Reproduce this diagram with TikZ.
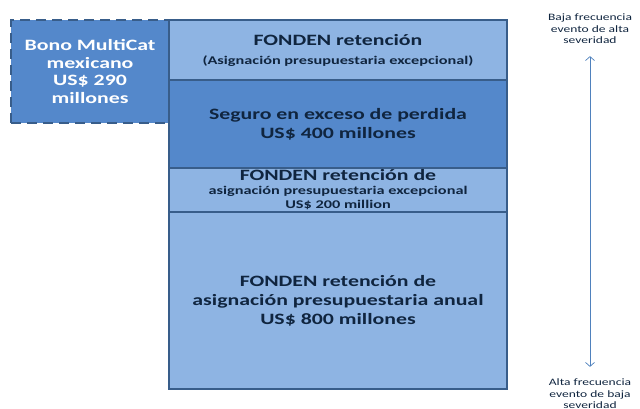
\documentclass[tikz,border=0pt]{standalone}
\usepackage{fontspec}
\setmainfont{Carlito}[FakeStretch=1.38]
\usetikzlibrary{arrows.meta}

\definecolor{riskLayersLightFill}{RGB}{142,180,227}
\definecolor{riskLayersDarkFill}{RGB}{84,136,203}
\definecolor{riskLayersBorder}{RGB}{56,93,138}
\definecolor{riskLayersText}{RGB}{16,37,63}
\definecolor{riskLayersArrowColor}{RGB}{79,129,189}
\newcommand{\riskLayersSmall}{\fontsize{11.8}{14}\selectfont}
\tikzset{riskLayersLight/.style={
    font=\bfseries\fontsize{15.8}{19}\selectfont,
    text=riskLayersText,
    fill=riskLayersLightFill,
    draw=riskLayersBorder,
    line width=2pt,
    align=center,
    inner sep=0pt,
    outer sep=0pt,
    minimum width=338pt,
  }
}
\tikzset{riskLayersDark/.style={
    riskLayersLight,
    fill=riskLayersDarkFill,
  }
}
\tikzset{riskLayersBond/.style={
    riskLayersDark,
    text=white,
    dash pattern=on 10pt off 6pt,
    line width=2.4pt,
    minimum width=158pt,
    minimum height=103pt,
  }
}
\tikzset{riskLayersNote/.style={
    font=\fontsize{9.8}{11.5}\selectfont,
    text=riskLayersText,
    align=center,
    inner sep=0pt,
  }
}
\tikzset{riskLayersArrow/.style={
    {Straight Barb[length=4pt,width=9pt]}-{Straight Barb[length=4pt,width=9pt]},
    riskLayersArrowColor,
    line width=0.7pt,
    shorten <=12pt,
    shorten >=12pt,
  }
}
\newcommand{\riskLayersDrawNodes}{
  \node [anchor = north west, riskLayersLight, minimum height=60pt] (fondenTop)
  at (169, 20) {FONDEN retención\\{\riskLayersSmall (Asignación presupuestaria excepcional)}};
  \node [anchor = north east, riskLayersBond] (bono)
  at (fondenTop.north west) {Bono MultiCat\\[-1.5pt]mexicano\\[-1.5pt]US\$ 290\\[-1.5pt]millones};
  \node [anchor = north, riskLayersDark, minimum height=88pt] (seguro)
  at (fondenTop.south) {Seguro en exceso de perdida\\US\$ 400 millones};
  \node [anchor = north, riskLayersLight, minimum height=44pt] (fondenMid)
  at (seguro.south) {FONDEN retención de\\[-5pt]{\riskLayersSmall asignación presupuestaria excepcional}\\[-5pt]{\riskLayersSmall US\$ 200 million}};
  \node [anchor = north, riskLayersLight, minimum height=177pt] (fondenAnnual)
  at (fondenMid.south) {FONDEN retención de\\asignación presupuestaria anual\\US\$ 800 millones};
  \draw [riskLayersLight, fill=none] (fondenTop.north west) -- (fondenTop.south west);
}
\newcommand{\riskLayersDefineSizeClip}{
  \useasboundingbox (0, 0) rectangle (640, 408);
  \clip (0, 0) rectangle (640, 408);
}

\begin{document}
\begin{tikzpicture}[x=1pt, y=-1pt]
      \riskLayersDefineSizeClip
      \riskLayersDrawNodes

      \node [riskLayersNote] (baja) at (590, 29) {Baja frecuencia\\evento de alta\\severidad};
      \node [riskLayersNote] (alta) at (590, 394) {Alta frecuencia\\evento de baja\\severidad};
      \draw [riskLayersArrow] (baja.south) to (alta.north);
    \end{tikzpicture}
\end{document}
